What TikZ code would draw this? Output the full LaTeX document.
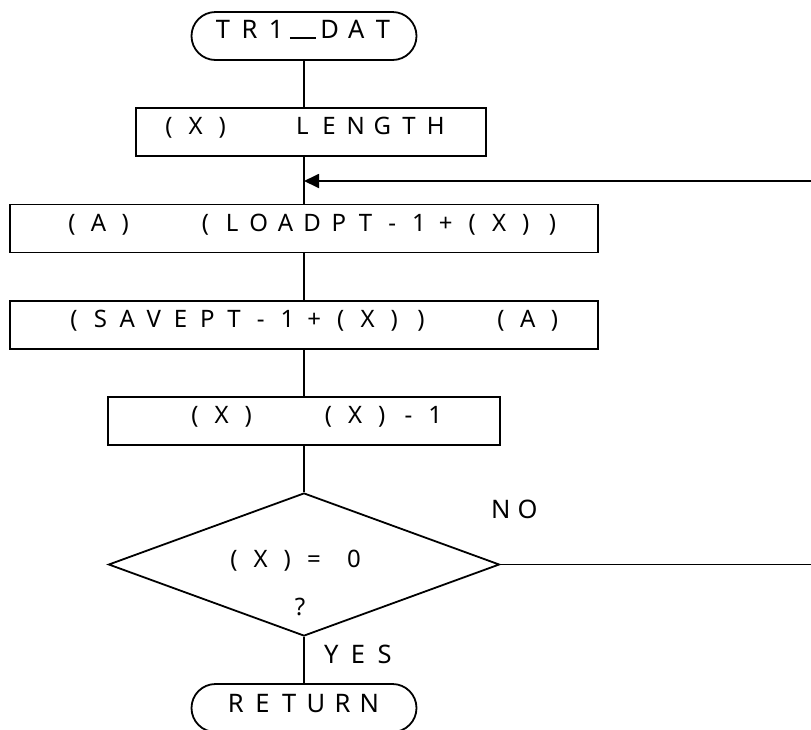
\documentclass[tikz,border=0pt]{standalone}
\usepackage{fontspec}
\setmainfont{Noto Sans}
\usetikzlibrary{shapes.geometric,arrows.meta}
\ExplSyntaxOn
\dim_new:N \l_cellw_dim
\dim_set:Nn \l_cellw_dim {26.7pt}
\NewDocumentCommand\fw{m}
  {
    \tl_map_inline:nn {#1}
      {
        \str_if_eq:nnTF {##1} {.}
          { \hbox_to_wd:nn { \l_cellw_dim } { } }
          {
            \str_if_eq:nnTF {##1} {:}
              { \hbox_to_wd:nn { 0.5\l_cellw_dim } { } }
              { \hbox_to_wd:nn { \l_cellw_dim } { \hss ##1 \hss } }
          }
      }
  }
\ExplSyntaxOff
\begin{document}
\begin{tikzpicture}[x=1pt,y=-1pt,line width=1.8pt,
  term/.style={draw,rounded corners=24pt,minimum width=225pt,minimum height=48pt,inner sep=0pt},
  procbox/.style={draw,minimum height=48pt,inner sep=0pt},
  decision/.style={draw,diamond,minimum width=391pt,minimum height=143pt,inner sep=0pt},
  txt/.style={anchor=base west,inner sep=0pt,font=\fontsize{24}{24}\selectfont},
  bigtxt/.style={anchor=base west,inner sep=0pt,font=\fontsize{25.5}{25.5}\selectfont},
  tip/.style={-{Triangle[length=15pt,width=14pt]}}]
\useasboundingbox (0,0) rectangle (811,729);
% shapes
\node[term] (t1) at (304,36) {};
\node[procbox,minimum width=350pt] (b1) at (311,132) {};
\node[procbox,minimum width=588pt] (b2) at (304,228.5) {};
\node[procbox,minimum width=588pt] (b3) at (304,325) {};
\node[procbox,minimum width=392pt] (b4) at (304,421) {};
\node[decision] (d) at (304,564.5) {};
\node[term] (t2) at (304,708) {};
% texts
\node[bigtxt] (l1) at (208.6,38) {\fw{TR1{\rule[-0.5pt]{26pt}{1.3pt}}DAT}};
\node[txt] (l2) at (154.6,134) {\fw{(X)..LENGTH}};
\node[txt] (l3) at (57.6,231) {\fw{(A)..(LOADPT-1+(X))}};
\node[txt] (l4) at (59.6,327) {\fw{(SAVEPT-1+(X))..(A)}};
\node[txt] (l5) at (180.6,423) {\fw{(X)..(X)-1}};
\node[txt] (l6) at (219.6,567) {\fw{(X)=:0}};
\node[txt,anchor=base] (l7) at (300,615) {?};
\node[bigtxt] (l8) at (486.6,518) {\fw{NO}};
\node[bigtxt] (l9) at (317,663) {\fw{YES}};
\node[bigtxt] (l10) at (221.6,712) {\fw{RETURN}};
% connectors
\coordinate (loopA) at (822,564.5);
\coordinate (loopB) at (822,181);
\coordinate (join) at (304,181);
\draw (t1.south) -- (t1.south |- b1.north);
\draw (b2.north |- b1.south) -- (b2.north);
\draw (b2.south) -- (b3.north);
\draw (b3.south) -- (b4.north);
\draw (b4.south) -- (d.north);
\draw (d.south) -- (t2.north);
\draw[tip] (d.east) -- (loopA) -- (loopB) -- (join);
\end{tikzpicture}
\end{document}
